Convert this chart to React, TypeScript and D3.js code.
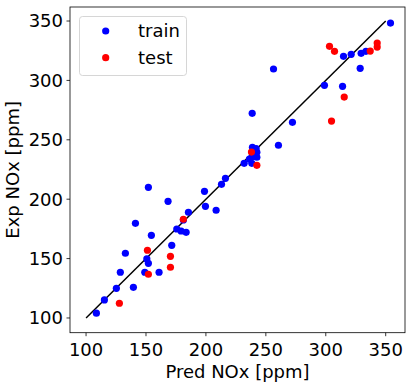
import React, { useEffect, useRef } from "react";
import * as d3 from "d3";

const trainX = [354.0, 256.4, 314.8, 321.2, 329.5, 333.5, 328.7, 298.9, 314.0, 238.6, 272.2, 260.5, 238.8, 241.9, 242.5, 242.5, 238.6, 236.3, 238.3, 231.9, 216.3, 213.0, 198.8, 199.6, 208.5, 185.4, 168.4, 152.0, 181.2, 175.7, 179.3, 183.5, 141.2, 154.5, 171.5, 132.8, 150.7, 152.0, 128.6, 149.0, 160.9, 139.5, 125.3, 115.3, 108.6];
const trainY = [348.3, 309.6, 320.3, 322.0, 322.8, 324.5, 310.2, 295.9, 295.0, 272.3, 264.7, 245.4, 243.7, 242.5, 239.5, 235.3, 235.8, 233.8, 230.2, 230.2, 217.6, 212.5, 206.6, 194.0, 190.7, 189.0, 198.2, 210.0, 182.5, 174.9, 173.2, 172.1, 179.7, 169.6, 161.2, 154.5, 149.7, 146.0, 138.5, 138.5, 138.5, 125.8, 125.0, 115.2, 104.0];
const testX = [303.1, 307.3, 337.1, 342.9, 342.9, 315.4, 304.8, 238.0, 242.5, 181.2, 151.2, 170.4, 170.4, 152.0, 127.8];
const testY = [328.7, 324.5, 324.7, 331.5, 328.1, 286.0, 265.8, 239.7, 228.5, 183.1, 157.0, 151.9, 142.7, 136.8, 112.4];
const lineX = [100, 350];
const ticks = [100, 150, 200, 250, 300, 350];
const seriesNames = ["train", "test"];
const seriesColors = ["blue", "red"];

const W = 412;
const H = 387;
const L = 70, R = 405, T = 7, B = 332.7;
const FONT = "DejaVu Sans, sans-serif";

export default function App() {
  const ref = useRef<SVGSVGElement>(null);
  useEffect(() => {
    document.body.style.margin = "0";
    const svg = d3.select(ref.current);
    svg.selectAll("*").remove();
    const x = d3.scaleLinear().domain([86.6, 366.1]).range([L, R]);
    const y = d3.scaleLinear().domain([87.6, 361.8]).range([B, T]);

    svg.append("rect").attr("width", W).attr("height", H).attr("fill", "white");

    // diagonal
    svg.append("line")
      .attr("x1", x(lineX[0])).attr("y1", y(lineX[0]))
      .attr("x2", x(lineX[1])).attr("y2", y(lineX[1]))
      .attr("stroke", "black").attr("stroke-width", 1.5);

    const r = 3.6;
    svg.append("g").selectAll("circle").data(trainX.map((v, i) => [v, trainY[i]]))
      .join("circle").attr("cx", d => x(d[0])).attr("cy", d => y(d[1])).attr("r", r).attr("fill", seriesColors[0]);
    svg.append("g").selectAll("circle").data(testX.map((v, i) => [v, testY[i]]))
      .join("circle").attr("cx", d => x(d[0])).attr("cy", d => y(d[1])).attr("r", r).attr("fill", seriesColors[1]);

    // frame
    svg.append("rect").attr("x", L).attr("y", T).attr("width", R - L).attr("height", B - T)
      .attr("fill", "none").attr("stroke", "black").attr("stroke-width", 0.8);

    // x ticks
    const gx = svg.append("g");
    ticks.forEach(t => {
      gx.append("line").attr("x1", x(t)).attr("x2", x(t)).attr("y1", B).attr("y2", B + 3.5).attr("stroke", "black").attr("stroke-width", 0.8);
      gx.append("text").attr("x", x(t)).attr("y", B + 7).attr("dy", "0.93em").attr("text-anchor", "middle")
        .attr("font-family", FONT).attr("font-size", 18).text(String(t));
    });
    const gy = svg.append("g");
    ticks.forEach(t => {
      gy.append("line").attr("x1", L - 3.5).attr("x2", L).attr("y1", y(t)).attr("y2", y(t)).attr("stroke", "black").attr("stroke-width", 0.8);
      gy.append("text").attr("x", L - 7).attr("y", y(t)).attr("dy", "0.36em").attr("text-anchor", "end")
        .attr("font-family", FONT).attr("font-size", 18).text(String(t));
    });

    svg.append("text").attr("x", (L + R) / 2).attr("y", 378).attr("text-anchor", "middle")
      .attr("font-family", FONT).attr("font-size", 18).text("Pred NOx [ppm]");
    svg.append("text").attr("transform", `translate(19,${(T + B) / 2}) rotate(-90)`).attr("text-anchor", "middle")
      .attr("font-family", FONT).attr("font-size", 18).text("Exp NOx [ppm]");

    // legend
    const lg = svg.append("g");
    lg.append("rect").attr("x", 79.5).attr("y", 16.5).attr("width", 107).attr("height", 59).attr("rx", 3)
      .attr("fill", "white").attr("fill-opacity", 0.8).attr("stroke", "#cccccc").attr("stroke-width", 0.8);
    seriesNames.forEach((n, i) => {
      const cy = 31 + i * 26.7;
      lg.append("circle").attr("cx", 105.7).attr("cy", cy).attr("r", r).attr("fill", seriesColors[i]);
      lg.append("text").attr("x", 138).attr("y", cy).attr("dy", "0.36em")
        .attr("font-family", FONT).attr("font-size", 18).text(n);
    });
  }, []);
  return <svg ref={ref} width={W} height={H} style={{ display: "block" }} />;
}
